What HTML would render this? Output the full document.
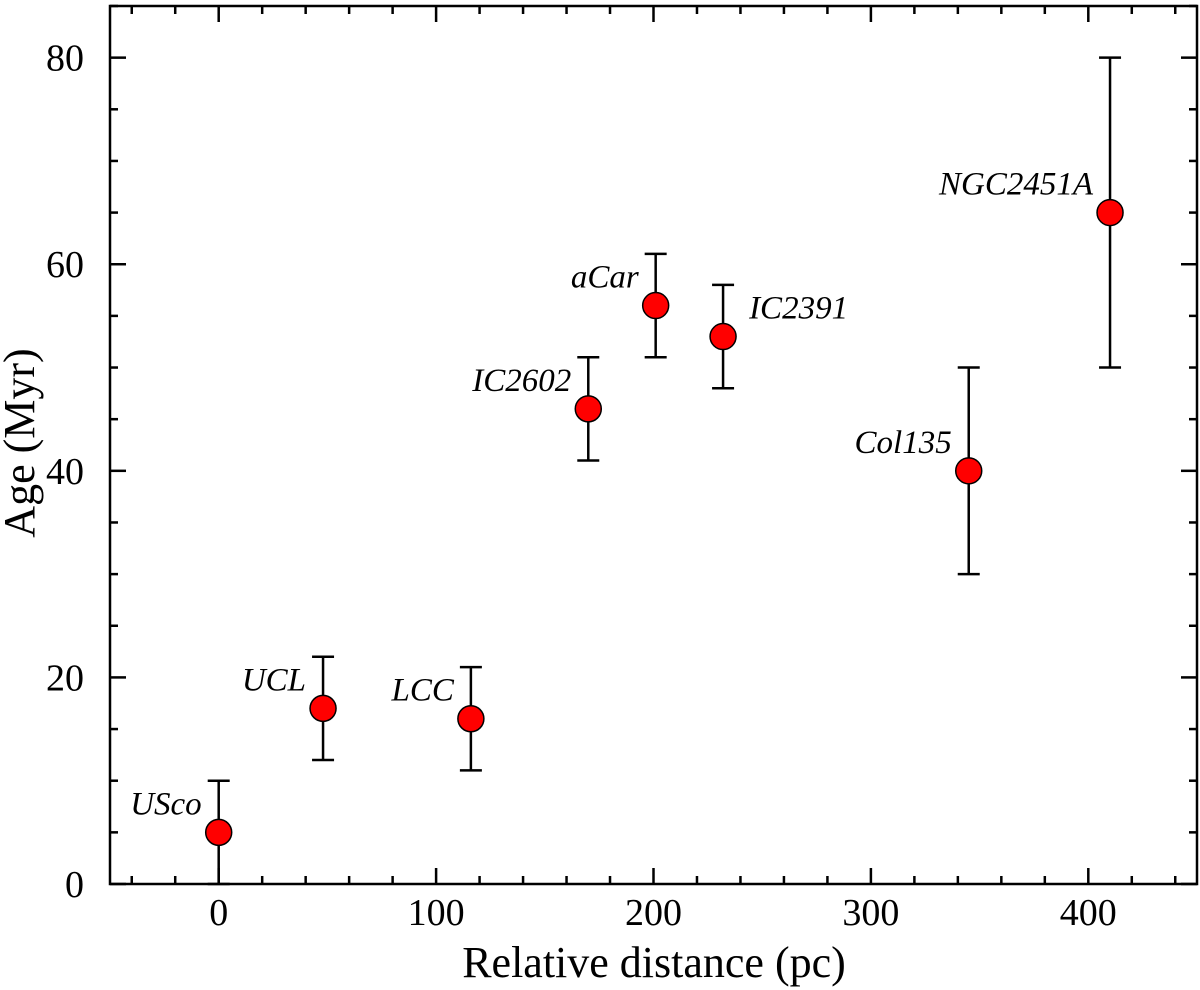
<!DOCTYPE html>
<html><head><meta charset="utf-8"><style>
html,body{margin:0;padding:0;background:#fff}
svg{display:block;font-family:"Liberation Serif",serif}
</style></head><body>
<svg id="chart" width="1200" height="990"></svg>
<script>
const names=["USco","UCL","LCC","IC2602","aCar","IC2391","Col135","NGC2451A"];
const distances=[0,48,116,170,201,232,345,410];
const ages=[5,17,16,46,56,53,40,65];
const errLow=[5,5,5,5,5,5,10,15];
const errHigh=[5,5,5,5,5,5,10,15];
const labelSide=["l","l","l","l","l","r","l","l"];
const xTicks=[0,100,200,300,400];
const yTicks=[0,20,40,60,80];
const NS="http://www.w3.org/2000/svg";
const svg=document.getElementById('chart');
const L=110,R=1197,T=6,B=884;
const xMin=-50,xMax=450,yMin=0,yMax=85;
const X=v=>L+(v-xMin)/(xMax-xMin)*(R-L);
const Y=v=>B-(v-yMin)/(yMax-yMin)*(B-T);
function mk(tag,attrs,parent){const e=document.createElementNS(NS,tag);for(const k in attrs)e.setAttribute(k,attrs[k]);(parent||svg).appendChild(e);return e;}
const frame=mk('rect',{x:L,y:T,width:R-L,height:B-T,fill:'none',stroke:'#000','stroke-width':2.5});


for(let v=-40;v<=440;v+=20){const major=v%100===0;const len=major?16:8;const x=X(v);
const t1=mk('line',{x1:x,x2:x,y1:B,y2:B-len,stroke:'#000','stroke-width':2.5});


const t2=mk('line',{x1:x,x2:x,y1:T,y2:T+len,stroke:'#000','stroke-width':2.5});

}
xTicks.forEach(v=>{const t=mk('text',{x:X(v),y:B+41,'text-anchor':'middle','font-size':38});t.textContent=v;

});
for(let v=0;v<=85;v+=5){const major=v%20===0;const len=major?16:8;const y=Y(v);
const t1=mk('line',{x1:L,x2:L+len,y1:y,y2:y,stroke:'#000','stroke-width':2.5});


const t2=mk('line',{x1:R,x2:R-len,y1:y,y2:y,stroke:'#000','stroke-width':2.5});

}
yTicks.forEach(v=>{const t=mk('text',{x:L-26,y:Y(v)+13,'text-anchor':'end','font-size':38});t.textContent=v;

});
const xt=mk('text',{x:654,y:977,'text-anchor':'middle','font-size':44});xt.textContent='Relative distance (pc)';


const yt=mk('text',{x:0,y:0,'text-anchor':'middle','font-size':44,transform:'translate(34,443) rotate(-90)'});yt.textContent='Age (Myr)';


names.forEach((n,i)=>{const x=X(distances[i]),y=Y(ages[i]);
const g=mk('g',{});


const yl=Y(ages[i]-errLow[i]),yh=Y(ages[i]+errHigh[i]);
mk('line',{x1:x,x2:x,y1:yl,y2:yh,stroke:'#000','stroke-width':2.5},g);
mk('line',{x1:x-11,x2:x+11,y1:yh,y2:yh,stroke:'#000','stroke-width':2.5},g);
mk('line',{x1:x-11,x2:x+11,y1:yl,y2:yl,stroke:'#000','stroke-width':2.5},g);
mk('circle',{cx:x,cy:y,r:13,fill:'#f00',stroke:'#000','stroke-width':1.5},g);
const left=labelSide[i]==='l';
const t=mk('text',{x:left?x-17:x+26,y:y-18,'text-anchor':left?'end':'start','font-size':33,'font-style':'italic'});
t.textContent=n;

});
</script>
</body></html>
